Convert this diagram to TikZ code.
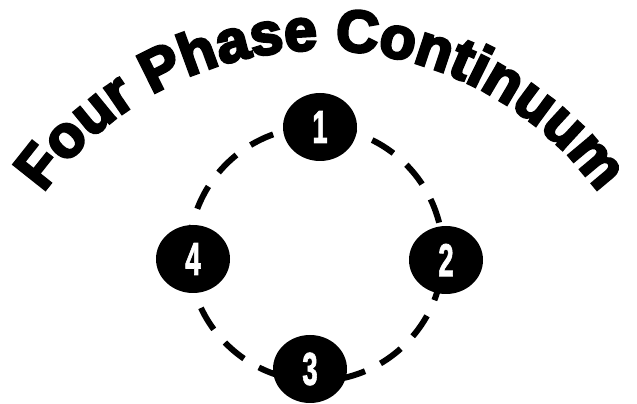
\documentclass[tikz,border=0pt]{standalone}
\usepackage{fontspec}
\setmainfont{Liberation Sans}
\newfontfamily\titlefont{Liberation Sans}[BoldFeatures={FakeBold=4.5}]
\newfontfamily\numfont{Liberation Sans}[BoldFeatures={FakeBold=2}]
\usetikzlibrary{shapes.geometric,decorations.text}
\begin{document}
\begin{tikzpicture}[x=1pt,y=1pt,
  phase/.style={ellipse, fill=black, minimum width=74pt, minimum height=68pt, inner sep=0pt,
    text=white, font=\numfont\fontsize{46}{46}\selectfont\bfseries},
  ring/.style={line width=6pt, dash pattern=on 25pt off 17.3pt, dash phase=10.6pt}]
\useasboundingbox (0,0) rectangle (637,404);
\draw[ring] (316,150) circle[radius=127pt];
\node[phase] (p1) at (320,277) {\scalebox{0.6}[1]{1}};
\node[phase] (p2) at (446,144) {\scalebox{0.6}[1]{2}};
\node[phase] (p3) at (310,35) {\scalebox{0.6}[1]{3}};
\node[phase] (p4) at (193,145) {\scalebox{0.6}[1]{4}};
\path[decorate, decoration={text along path, text align=center,
  text={|\titlefont\fontsize{59}{61}\selectfont\bfseries|Four Phase Continuum}}]
  (321,13) ++(152:341pt) arc[start angle=152, end angle=28, radius=341pt];
\end{tikzpicture}
\end{document}
